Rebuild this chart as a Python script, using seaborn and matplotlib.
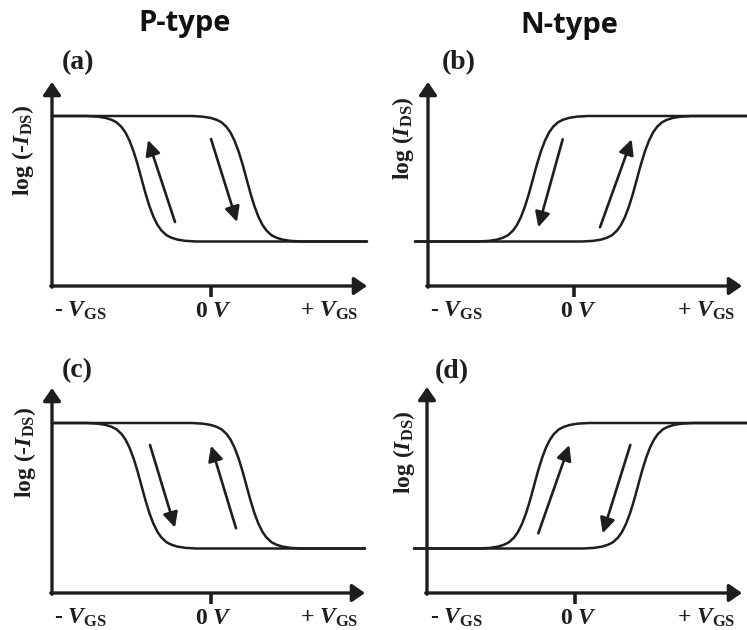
import numpy as np
import pandas as pd
import matplotlib
matplotlib.use("Agg")
import matplotlib.pyplot as plt
import seaborn as sns

# ---------------- data ----------------
# shape of one switching transition: offset from threshold (V, arb.) -> fraction of swing
PROFILE_DV = [-0.55, -0.44, -0.36, -0.30, -0.25, -0.20, -0.16, -0.12, -0.08, -0.04, 0.0,
              0.04, 0.08, 0.12, 0.16, 0.20, 0.25, 0.30, 0.36, 0.44, 0.55]
PROFILE_FRAC = [0.0, 0.005, 0.015, 0.03, 0.05, 0.087, 0.132, 0.196, 0.28, 0.383, 0.5,
                0.617, 0.72, 0.804, 0.868, 0.913, 0.95, 0.97, 0.985, 0.995, 1.0]
I_ON = 1.70    # log(I) on level (arb.)
I_OFF = 0.445  # log(I) off level (arb.)
P_VTH = [-0.695, 0.355]   # threshold of the two sweeps, P-type
N_VTH = [-0.41, 0.63]     # threshold of the two sweeps, N-type

COLUMN_TITLES = ["P-type", "N-type"]
PANEL_LETTERS = ["(a)", "(b)", "(c)", "(d)"]
PANEL_TYPES = ["P", "N", "P", "N"]
YLABELS = {"P": r"log (-$I_{\mathrm{DS}}$)", "N": r"log ($I_{\mathrm{DS}}$)"}
XTICK_TEXTS = [r"- $V_{\mathrm{GS}}$", r"0 $V$", r"+ $V_{\mathrm{GS}}$"]

# sweep-direction arrows: (tail_x, tail_y, head_x, head_y)
SWEEP_ARROWS = [
    [(-0.36, 0.64, -0.63, 1.46), (0.00, 1.47, 0.26, 0.64)],
    [(-0.113, 1.467, -0.357, 0.587), (0.26, 0.587, 0.577, 1.467)],
    [(-0.61, 1.48, -0.36, 0.653), (0.25, 0.647, 0.00, 1.473)],
    [(-0.367, 0.597, -0.057, 1.48), (0.553, 1.48, 0.277, 0.597)],
]

# ---------------- layout (pixels) ----------------
W, H = 747, 630
# left, top, right, bottom, zero-volt x  (pixel)
AX_BOX = [(52, 82, 367, 286, 211), (428, 82, 742, 286, 574),
          (52, 388, 365, 593, 211), (427, 387, 742, 593, 575)]
TICK_TEXT_PX = [[80, 214, 329], [456, 579, 706], [80, 214, 329], [456, 579, 706]]
LETTER_POS = [(62, 63), (442, 63), (62, 371), (435, 372)]
YLAB_POS = [(23, 150), (403, 138), (25, 452), (404, 452)]
TITLE_POS = [(185, 23), (569, 25)]

INK = "#1e1e1e"

sns.set_theme(style="white")
plt.rcParams.update({
    "font.family": ["Liberation Serif", "DejaVu Serif"],
    "mathtext.fontset": "custom",
    "mathtext.rm": "Liberation Serif:bold",
    "mathtext.it": "Liberation Serif:italic:bold",
    "mathtext.bf": "Liberation Serif:bold",
    "mathtext.sf": "Liberation Serif:bold",
})

fig = plt.figure(figsize=(W / 100, H / 100), dpi=100)
fig.patch.set_facecolor("white")

for i, (l, t, r, b, z) in enumerate(AX_BOX):
    ax = fig.add_axes([l / W, 1 - b / H, (r - l) / W, (b - t) / H])
    xmin, xmax = (l - z) / 100, (r - z) / 100
    ytop = (b - t) / 100
    kind = PANEL_TYPES[i]
    vths = P_VTH if kind == "P" else N_VTH
    if kind == "P":
        x_start, x_end = xmin, xmax
    else:
        x_start, x_end = xmin - 0.13, xmax + 0.05
    frames = []
    for name, vth in zip(["backward", "forward"], vths):
        xs = [x_start] + [vth + d for d in PROFILE_DV] + [x_end]
        fr = np.array([0.0] + PROFILE_FRAC + [1.0])
        if kind == "P":
            ys = I_ON - (I_ON - I_OFF) * fr
        else:
            ys = I_OFF + (I_ON - I_OFF) * fr
        frames.append(pd.DataFrame({"V": xs, "logI": ys, "sweep": name}))
    df = pd.concat(frames, ignore_index=True)
    sns.lineplot(data=df, x="V", y="logI", units="sweep", estimator=None, sort=False,
                 color=INK, lw=1.8, ax=ax, legend=False, clip_on=False)
    ax.set_xlim(xmin, xmax)
    ax.set_ylim(0, ytop)
    ax.set_axis_off()

    # axes with arrow heads
    ap = dict(arrowstyle="-|>,head_length=0.55,head_width=0.38", mutation_scale=14,
              lw=2.4, color=INK, shrinkA=0, shrinkB=0)
    ax.annotate("", xy=(1, 0), xytext=(-0.004, 0), xycoords="axes fraction",
                arrowprops=ap, annotation_clip=False)
    ax.annotate("", xy=(0, 1), xytext=(0, -0.006), xycoords="axes fraction",
                arrowprops=ap, annotation_clip=False)
    # 0 V tick
    ax.plot([0, 0], [0, -0.11], color=INK, lw=2.6, clip_on=False, solid_capstyle="butt")

    # sweep arrows
    for (tx, ty, hx, hy) in SWEEP_ARROWS[i]:
        ax.annotate("", xy=(hx, hy), xytext=(tx, ty),
                    arrowprops=dict(arrowstyle="-|>,head_length=0.65,head_width=0.32",
                                    mutation_scale=14, lw=1.9, color=INK,
                                    shrinkA=0, shrinkB=0))

    # x labels
    for txt, px in zip(XTICK_TEXTS, TICK_TEXT_PX[i]):
        ax.text((px - z) / 100, -0.31, txt, ha="center", va="baseline", fontsize=17,
                fontweight="bold", color=INK, clip_on=False)

    # panel letter
    lx, ly = LETTER_POS[i]
    fig.text(lx / W, 1 - ly / H, PANEL_LETTERS[i], ha="left", va="center",
             fontsize=20, fontweight="bold", color=INK)
    # y label
    yx, yy = YLAB_POS[i]
    fig.text(yx / W, 1 - yy / H, YLABELS[kind], rotation=90, ha="center", va="center",
             fontsize=17, fontweight="bold", color=INK)

for title, (tx, ty) in zip(COLUMN_TITLES, TITLE_POS):
    fig.text(tx / W, 1 - ty / H, title, ha="center", va="center", fontsize=21,
             fontweight="bold", family=["Open Sans", "DejaVu Sans"], color="#111111")

fig.savefig("out.png", dpi=100, facecolor="white")
